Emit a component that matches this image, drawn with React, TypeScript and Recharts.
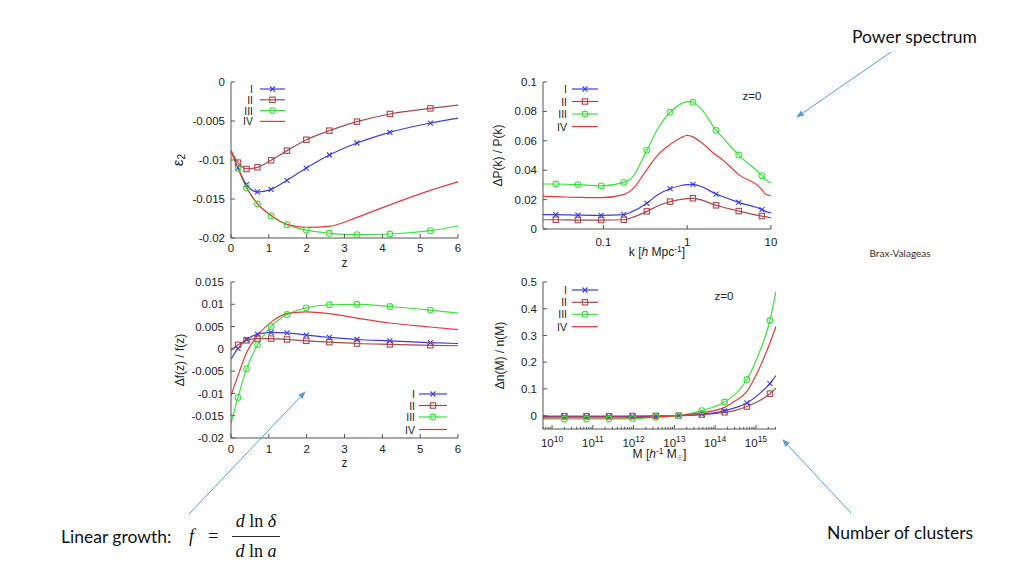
import React from "react";
import { LineChart, Line, XAxis, YAxis, Legend } from "recharts";

// redshift sampling shared by the two growth panels (markers on the interior points)
const zGrid = [0, 0.185, 0.41, 0.7, 1.06, 1.48, 1.99, 2.6, 3.33, 4.2, 5.27, 6];
const zMarked = [false, true, true, true, true, true, true, true, true, true, true, false];
const zTicks = [0, 1, 2, 3, 4, 5, 6];

// epsilon_2(z)
const eps2I = [-0.0088, -0.011, -0.01316, -0.0141, -0.01376, -0.0126, -0.01103, -0.00936, -0.00782, -0.00645, -0.00526, -0.00462];
const eps2II = [-0.0088, -0.01034, -0.01115, -0.01094, -0.01004, -0.0088, -0.0074, -0.00624, -0.00509, -0.0041, -0.00338, -0.00295];
const eps2III = [-0.0088, -0.0111, -0.01355, -0.01564, -0.01718, -0.01829, -0.019, -0.0194, -0.01957, -0.01949, -0.01906, -0.01846];
const eps2IV = [-0.0088, -0.011, -0.0135, -0.0156, -0.0171, -0.01825, -0.01863, -0.0185, -0.01735, -0.01575, -0.0139, -0.0128];
const eps2Ticks = [-0.02, -0.015, -0.01, -0.005, 0];

// delta f / f
const dfI = [-0.0023, 0.0001, 0.0021, 0.0033, 0.0037, 0.0036, 0.0031, 0.0026, 0.0021, 0.0018, 0.0014, 0.0012];
const dfII = [-0.0003, 0.0009, 0.0019, 0.0023, 0.0023, 0.0021, 0.0018, 0.0015, 0.0012, 0.001, 0.0008, 0.0007];
const dfIII = [-0.0167, -0.0109, -0.0045, 0.0009, 0.005, 0.0077, 0.0092, 0.0099, 0.01, 0.0095, 0.0087, 0.008];
const dfIV = [-0.0105, -0.006, -0.0009, 0.003, 0.006, 0.0079, 0.0083, 0.0079, 0.0069, 0.0058, 0.0049, 0.0043];
const dfTicks = [-0.02, -0.015, -0.01, -0.005, 0, 0.005, 0.01, 0.015];

// delta P / P at z=0
const kGrid = [0.019, 0.027, 0.0496, 0.094, 0.175, 0.22, 0.33, 0.45, 0.624, 0.85, 1.0, 1.17, 1.5, 2.21, 2.5, 4.12, 7.8, 8.6, 10];
const kMarked = [false, true, true, true, true, false, true, false, true, false, false, true, false, true, false, true, true, false, false];
const dpI = [0.0098, 0.0098, 0.0095, 0.0093, 0.0098, 0.0118, 0.0175, 0.0235, 0.0274, 0.0296, 0.0302, 0.0304, 0.0287, 0.0238, 0.0226, 0.0181, 0.0132, 0.012, 0.0109];
const dpII = [0.0063, 0.0063, 0.0061, 0.0061, 0.0063, 0.0078, 0.012, 0.0158, 0.0186, 0.0202, 0.0207, 0.0209, 0.0196, 0.0161, 0.0153, 0.0122, 0.0088, 0.0084, 0.0075];
const dpIII = [0.0306, 0.0306, 0.0302, 0.0293, 0.0317, 0.035, 0.0535, 0.0687, 0.0794, 0.0853, 0.0867, 0.0862, 0.0812, 0.0671, 0.0638, 0.0503, 0.0363, 0.0336, 0.0313];
const dpIV = [0.0222, 0.022, 0.0215, 0.0213, 0.0234, 0.0268, 0.0404, 0.0506, 0.0574, 0.0622, 0.0637, 0.0627, 0.0585, 0.0502, 0.0482, 0.037, 0.0268, 0.0236, 0.0227];
const kTicks = [0.1, 1, 10];
const dpTicks = [0, 0.02, 0.04, 0.06, 0.08, 0.1];

// delta n / n at z=0
const mGrid = [6e9, 2e10, 7e10, 2.5e11, 9.4e11, 3.5e12, 1.27e13, 4.7e13, 1.7e14, 3e14, 6e14, 1.15e15, 2.2e15, 3.1e15];
const mMarked = [false, true, true, true, true, true, true, true, true, false, true, false, true, false];
const dnI = [-0.004, -0.004, -0.004, -0.0038, -0.003, -0.002, 0, 0.006, 0.018, 0.029, 0.0475, 0.0785, 0.12, 0.15];
const dnII = [-0.002, -0.002, -0.002, -0.002, -0.0015, -0.001, 0, 0.004, 0.0125, 0.019, 0.034, 0.0535, 0.082, 0.104];
const dnIII = [-0.012, -0.0125, -0.0125, -0.0125, -0.011, -0.006, 0, 0.0187, 0.051, 0.0785, 0.135, 0.228, 0.356, 0.465];
const dnIV = [-0.008, -0.0085, -0.0085, -0.0085, -0.0075, -0.0045, 0, 0.011, 0.031, 0.0535, 0.091, 0.17, 0.272, 0.334];
const mMajor = [1e10, 1e11, 1e12, 1e13, 1e14, 1e15];
const dnTicks = [0, 0.1, 0.2, 0.3, 0.4, 0.5];

const mTicks: number[] = [];
for (let e = 9; e <= 15; e++) {
  for (let m = 1; m <= 9; m++) {
    const v = m * Math.pow(10, e);
    if (v >= 6e9 && v <= 3.1e15) mTicks.push(v);
  }
}

const SERIES = [
  { key: "I", color: "#3c3ce6", shape: "x" },
  { key: "II", color: "#a8484e", shape: "sq" },
  { key: "III", color: "#3ee03e", shape: "ci" },
  { key: "IV", color: "#e43a3a", shape: "" },
];

const AX = "#555";
const TXT = "#222";
const SANS = "'Liberation Sans', Arial, sans-serif";
const TICK_FS = 11.5;

function Marker({ cx, cy, shape, color }: any) {
  if (shape === "x")
    return (
      <g stroke={color} strokeWidth={1.1}>
        <line x1={cx - 2.5} y1={cy - 2.5} x2={cx + 2.5} y2={cy + 2.5} />
        <line x1={cx - 2.5} y1={cy + 2.5} x2={cx + 2.5} y2={cy - 2.5} />
      </g>
    );
  if (shape === "sq")
    return <rect x={cx - 2.7} y={cy - 2.7} width={5.4} height={5.4} fill="none" stroke={color} strokeWidth={1.1} />;
  if (shape === "ci") return <circle cx={cx} cy={cy} r={2.9} fill="none" stroke={color} strokeWidth={1.1} />;
  return <g />;
}

const dotFor = (shape: string, color: string) => (p: any) => {
  const k = `${p.dataKey}-${p.index}`;
  if (!shape || !p.payload || !p.payload.mark) return <g key={k} />;
  return <Marker key={k} cx={p.cx} cy={p.cy} shape={shape} color={color} />;
};

const yTitle = (node: React.ReactNode, dx: number) => (p: any) => {
  const vb = p.viewBox || { x: 0, y: 0, height: 0 };
  const cx = vb.x + dx;
  const cy = vb.y + vb.height / 2;
  return (
    <text x={cx} y={cy} transform={`rotate(-90 ${cx} ${cy})`} textAnchor="middle" dominantBaseline="central" fontSize={12} fill={TXT}>
      {node}
    </text>
  );
};

const xTitle = (node: React.ReactNode, dy: number) => (p: any) => {
  const vb = p.viewBox || { x: 0, y: 0, width: 0 };
  return (
    <text x={vb.x + vb.width / 2} y={vb.y + dy} textAnchor="middle" fontSize={12} fill={TXT}>
      {node}
    </text>
  );
};

const massTick = (top: boolean) => (p: any) => {
  const v = p.payload.value;
  const lg = Math.log10(v);
  const e = Math.round(lg);
  const major = Math.abs(lg - e) < 1e-6;
  const len = major ? 4 : 2.2;
  return (
    <g>
      <line x1={p.x} x2={p.x} y1={p.y} y2={top ? p.y + len : p.y - len} stroke={AX} />
      {!top && major && (
        <text x={p.x} y={p.y + 18} textAnchor="middle" fontSize={TICK_FS} fill={TXT}>
          10<tspan dy={-5} fontSize={8.5}>{e}</tspan>
        </text>
      )}
    </g>
  );
};

type Key = { right: number; rows: number[]; x1: number; x2: number; note?: { x: number; y: number } };

function Panel(props: {
  plot: { x: number; y: number; w: number; h: number };
  xs: number[];
  marked: boolean[];
  ys: number[][];
  log?: boolean;
  xDomain: number[];
  xTicks: number[];
  yDomain: number[];
  yTicks: number[];
  xMargin: number;
  yMargin: number;
  yLabel: React.ReactNode;
  yDx: number;
  xLabel: React.ReactNode;
  xDy: number;
  keyBox: Key;
  massAxis?: boolean;
}) {
  const { plot } = props;
  const left = plot.x - 70;
  const top = plot.y - 10;
  const W = plot.w + 80;
  const H = plot.h + 50;
  const rows = props.xs.map((x, i) => ({
    x,
    mark: props.marked[i],
    I: props.ys[0][i],
    II: props.ys[1][i],
    III: props.ys[2][i],
    IV: props.ys[3][i],
  }));
  const kb = props.keyBox;
  const scale = props.log ? "log" : "linear";
  const blank = () => "";

  const keyContent = () => (
    <svg width={W} height={H} style={{ position: "absolute", left: 0, top: 0, overflow: "visible" }}>
      {SERIES.map((s, i) => {
        const y = kb.rows[i] - top;
        const x1 = kb.x1 - left;
        const x2 = kb.x2 - left;
        return (
          <g key={s.key}>
            <text x={kb.right - left} y={y} textAnchor="end" dominantBaseline="central" fontSize={10.5} fill={TXT} fontFamily={SANS}>
              {s.key}
            </text>
            <line x1={x1} x2={x2} y1={y} y2={y} stroke={s.color} strokeWidth={1.2} />
            <Marker cx={(x1 + x2) / 2} cy={y} shape={s.shape} color={s.color} />
          </g>
        );
      })}
      {kb.note && (
        <text x={kb.note.x - left} y={kb.note.y - top} textAnchor="middle" dominantBaseline="central" fontSize={11.5} fill={TXT} fontFamily={SANS}>
          z=0
        </text>
      )}
    </svg>
  );

  return (
    <div style={{ position: "absolute", left, top }}>
      <LineChart width={W} height={H} data={rows} margin={{ top: 10, right: 10, bottom: 0, left: 0 }}>
        {props.massAxis ? (
          <XAxis
            xAxisId="b"
            dataKey="x"
            type="number"
            scale={scale}
            domain={props.xDomain}
            allowDataOverflow
            ticks={mTicks}
            interval={0}
            height={40}
            stroke={AX}
            tickLine={false}
            tickSize={0}
            tickMargin={0}
            tick={massTick(false)}
            label={{ content: xTitle(props.xLabel, props.xDy) }}
          />
        ) : (
          <XAxis
            xAxisId="b"
            dataKey="x"
            type="number"
            scale={scale}
            domain={props.xDomain}
            allowDataOverflow
            ticks={props.xTicks}
            interval={0}
            height={40}
            stroke={AX}
            tickSize={-4}
            tickMargin={props.xMargin}
            tick={{ fontSize: TICK_FS, fill: TXT }}
            label={{ content: xTitle(props.xLabel, props.xDy) }}
          />
        )}
        {props.massAxis ? (
          <XAxis
            xAxisId="t"
            orientation="top"
            dataKey="x"
            type="number"
            scale={scale}
            domain={props.xDomain}
            allowDataOverflow
            ticks={mTicks}
            interval={0}
            height={0}
            stroke={AX}
            tickLine={false}
            tickSize={0}
            tickMargin={0}
            tick={massTick(true)}
          />
        ) : (
          <XAxis
            xAxisId="t"
            orientation="top"
            dataKey="x"
            type="number"
            scale={scale}
            domain={props.xDomain}
            allowDataOverflow
            ticks={props.xTicks}
            interval={0}
            height={0}
            stroke={AX}
            tickSize={-4}
            tickFormatter={blank}
          />
        )}
        <YAxis
          yAxisId="l"
          type="number"
          domain={props.yDomain}
          allowDataOverflow
          ticks={props.yTicks}
          interval={0}
          width={70}
          stroke={AX}
          tickSize={-4}
          tickMargin={props.yMargin}
          tick={{ fontSize: TICK_FS, fill: TXT }}
          label={{ content: yTitle(props.yLabel, props.yDx) }}
        />
        <YAxis
          yAxisId="r"
          orientation="right"
          type="number"
          domain={props.yDomain}
          allowDataOverflow
          ticks={props.yTicks}
          interval={0}
          width={0}
          stroke={AX}
          tickSize={-4}
          tickFormatter={blank}
        />
        {SERIES.map((s) => (
          <Line
            key={s.key}
            xAxisId="b"
            yAxisId="l"
            dataKey={s.key}
            type="monotone"
            stroke={s.color}
            strokeWidth={1.2}
            dot={dotFor(s.shape, s.color)}
            activeDot={false}
            isAnimationActive={false}
          />
        ))}
        <Legend
          layout="vertical"
          align="center"
          verticalAlign="middle"
          wrapperStyle={{ left: 0, top: 0, width: W, height: H, pointerEvents: "none" }}
          content={keyContent}
        />
      </LineChart>
    </div>
  );
}

const ARROW = "#5b9bd5";
const SLIDE_FONT = "Lato, 'Open Sans', sans-serif";

export default function App() {
  return (
    <div
      style={{
        position: "fixed",
        left: 0,
        top: 0,
        width: 1024,
        height: 576,
        background: "#fff",
        fontFamily: SANS,
        overflow: "hidden",
      }}
    >
      <Panel
        plot={{ x: 231, y: 82, w: 227, h: 156 }}
        xs={zGrid}
        marked={zMarked}
        ys={[eps2I, eps2II, eps2III, eps2IV]}
        xDomain={[0, 6]}
        xTicks={zTicks}
        yDomain={[-0.02, 0]}
        yTicks={eps2Ticks}
        xMargin={10}
        yMargin={10}
        yLabel={
          <tspan fontSize={15}>
            ε<tspan dy={4} fontSize={10}>2</tspan>
          </tspan>
        }
        yDx={16}
        xLabel="z"
        xDy={29}
        keyBox={{ right: 253, rows: [89, 99.8, 110.6, 121.4], x1: 260, x2: 285 }}
      />
      <Panel
        plot={{ x: 543, y: 82, w: 228, h: 147 }}
        xs={kGrid}
        marked={kMarked}
        ys={[dpI, dpII, dpIII, dpIV]}
        log
        xDomain={[0.019, 10]}
        xTicks={kTicks}
        yDomain={[0, 0.1]}
        yTicks={dpTicks}
        xMargin={13}
        yMargin={10}
        yLabel="ΔP(k) / P(k)"
        yDx={25}
        xLabel={
          <>
            k [<tspan fontStyle="italic">h</tspan> Mpc<tspan dy={-4} fontSize={8.5}>-1</tspan>
            <tspan dy={4}>]</tspan>
          </>
        }
        xDy={27}
        keyBox={{ right: 567, rows: [89, 101.5, 114, 126.5], x1: 572, x2: 598, note: { x: 752, y: 96 } }}
      />
      <Panel
        plot={{ x: 231, y: 282, w: 227, h: 156 }}
        xs={zGrid}
        marked={zMarked}
        ys={[dfI, dfII, dfIII, dfIV]}
        xDomain={[0, 6]}
        xTicks={zTicks}
        yDomain={[-0.02, 0.015]}
        yTicks={dfTicks}
        xMargin={11}
        yMargin={11}
        yLabel="Δf(z) / f(z)"
        yDx={19}
        xLabel="z"
        xDy={29}
        keyBox={{ right: 415, rows: [394, 405.5, 417, 429.5], x1: 419, x2: 447 }}
      />
      <Panel
        plot={{ x: 543, y: 282, w: 233, h: 147 }}
        xs={mGrid}
        marked={mMarked}
        ys={[dnI, dnII, dnIII, dnIV]}
        log
        massAxis
        xDomain={[6e9, 3.1e15]}
        xTicks={mMajor}
        yDomain={[-0.05, 0.5]}
        yTicks={dnTicks}
        xMargin={0}
        yMargin={10}
        yLabel="Δn(M) / n(M)"
        yDx={27}
        xLabel={
          <>
            M [<tspan fontStyle="italic">h</tspan>
            <tspan dy={-4} fontSize={8.5}>-1</tspan>
            <tspan dy={4}> M</tspan>
            <tspan dy={2} fontSize={7} fontFamily="'DejaVu Sans', sans-serif">☉</tspan>
            <tspan dy={-2}>]</tspan>
          </>
        }
        xDy={29}
        keyBox={{ right: 567, rows: [290, 302.3, 314.3, 326.7], x1: 572, x2: 598, note: { x: 724, y: 296 } }}
      />

      <svg width={1024} height={576} style={{ position: "absolute", left: 0, top: 0, pointerEvents: "none" }}>
        <defs>
          <marker id="ah" markerWidth={8} markerHeight={8} refX={7} refY={4} orient="auto" markerUnits="userSpaceOnUse">
            <path d="M0,1 L8,4 L0,7 z" fill={ARROW} />
          </marker>
        </defs>
        <line x1={891} y1={52} x2={797} y2={117} stroke={ARROW} strokeWidth={1} markerEnd="url(#ah)" />
        <line x1={189} y1={514} x2={305} y2={392} stroke={ARROW} strokeWidth={1} markerEnd="url(#ah)" />
        <line x1={851} y1={513} x2={783} y2={440} stroke={ARROW} strokeWidth={1} markerEnd="url(#ah)" />

        <text x={852} y={43} fontFamily={SLIDE_FONT} fontSize={17.5} fill="#111">
          Power spectrum
        </text>
        <text x={869.5} y={256.5} fontFamily={SLIDE_FONT} fontSize={10} fill="#333">
          Brax-Valageas
        </text>
        <text x={61} y={542.5} fontFamily={SLIDE_FONT} fontSize={17.5} fill="#111">
          Linear growth:
        </text>
        <text x={827} y={539} fontFamily={SLIDE_FONT} fontSize={17.5} fill="#111">
          Number of clusters
        </text>

        <g fontFamily="'Liberation Serif', 'DejaVu Serif', serif" fontSize={18} fill="#111">
          <text x={189} y={542} fontStyle="italic">f</text>
          <text x={213} y={542} textAnchor="middle">=</text>
          <text x={256} y={527} textAnchor="middle">
            <tspan fontStyle="italic">d</tspan> ln <tspan fontStyle="italic">δ</tspan>
          </text>
          <line x1={232} x2={280} y1={536.5} y2={536.5} stroke="#111" strokeWidth={0.9} />
          <text x={256} y={557} textAnchor="middle">
            <tspan fontStyle="italic">d</tspan> ln <tspan fontStyle="italic">a</tspan>
          </text>
        </g>
      </svg>
    </div>
  );
}
